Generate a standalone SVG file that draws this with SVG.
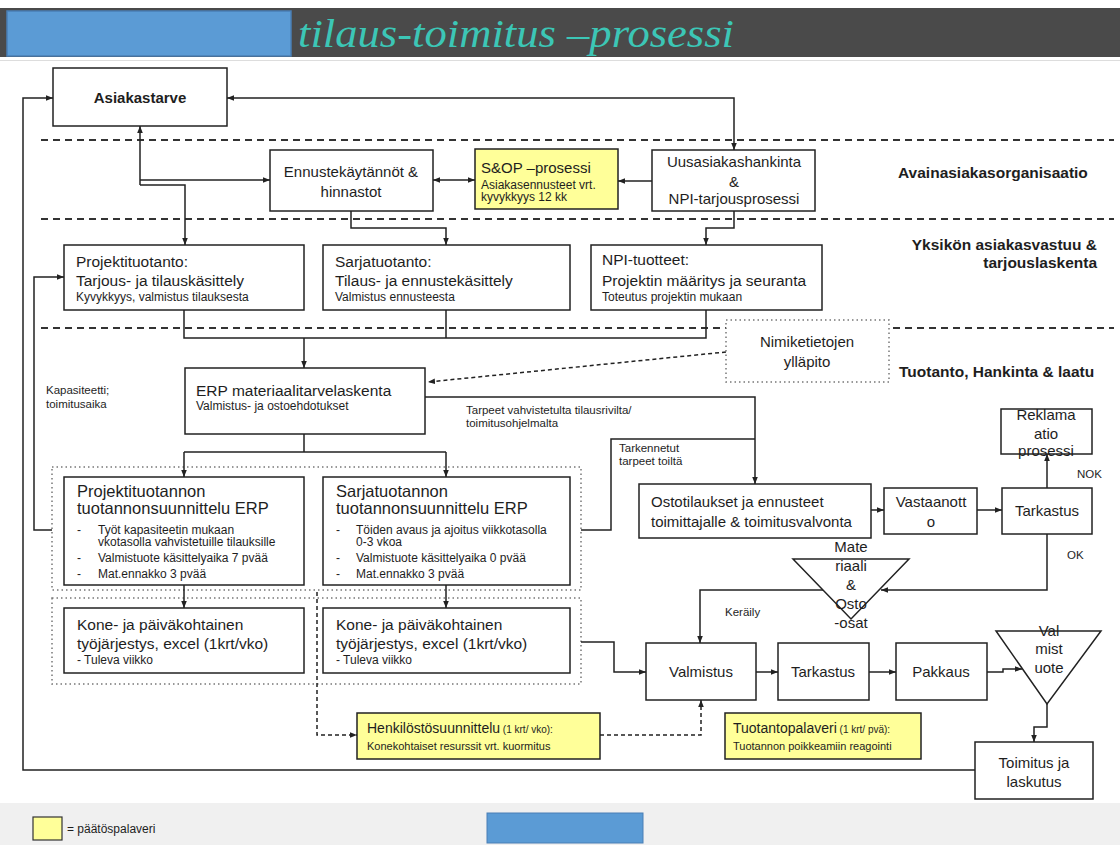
<svg xmlns="http://www.w3.org/2000/svg" width="1120" height="845" viewBox="0 0 1120 845">
<defs>
<style>
text{font-family:"Liberation Sans",Arial,sans-serif;fill:#1e1e1e}
.box{fill:#fff;stroke:#222;stroke-width:1.5}
.yel{fill:#ffff99;stroke:#222;stroke-width:1.5}
.ln{fill:none;stroke:#222;stroke-width:1.5}
.dl{fill:none;stroke:#222;stroke-width:1.5;stroke-dasharray:4 3}
.sep{fill:none;stroke:#333;stroke-width:2;stroke-dasharray:7 5}
.dot{fill:none;stroke:#777;stroke-width:1.5;stroke-dasharray:1.5 3}
.dotw{fill:#fff;stroke:#777;stroke-width:1.5;stroke-dasharray:1.5 3}
.f15{font-size:15px}
.f155{font-size:15.5px}
.f17{font-size:16.5px}
.f12{font-size:12px}
.f11{font-size:11.5px}
.b{font-weight:bold}
.lab{font-size:15.5px;font-weight:bold}
.c{text-anchor:middle}
.r{text-anchor:end}
</style>
<marker id="ar" viewBox="0 0 10 10" refX="10" refY="5" markerWidth="7" markerHeight="7" markerUnits="userSpaceOnUse" orient="auto-start-reverse"><path d="M0,1 L10,5 L0,9 z" fill="#222"/></marker>
</defs>
<rect width="1120" height="845" fill="#fff"/>
<g id="header">
<rect x="0" y="8" width="1120" height="49" fill="#4a4a4a"/>
<rect x="7" y="11" width="284" height="45" fill="#5b9bd5" stroke="#4a7fb5" stroke-width="1.5"/>
<text x="298" y="47" font-family="'Liberation Serif',serif" font-style="italic" font-size="40" style="font-family:'Liberation Serif',serif;fill:#3cc6b6" textLength="436" lengthAdjust="spacingAndGlyphs">tilaus-toimitus –prosessi</text>
<line x1="0" y1="60.5" x2="1120" y2="60.5" stroke="#ddd" stroke-width="1"/>
</g>
<g id="separators">
<line class="sep" x1="41" y1="140" x2="1114" y2="140"/>
<line class="sep" x1="41" y1="219" x2="1114" y2="219"/>
<line class="sep" x1="41" y1="328" x2="1114" y2="328"/>
</g>
<g id="lanes">
<text class="lab" x="898" y="178">Avainasiakasorganisaatio</text>
<text class="lab r" x="1097" y="250">Yksikön asiakasvastuu &amp;</text>
<text class="lab r" x="1097" y="268">tarjouslaskenta</text>
<text class="lab" x="899" y="377">Tuotanto, Hankinta &amp; laatu</text>
</g>
<g id="groups">
<rect class="dot" x="52" y="467" width="529" height="123"/>
<rect class="dot" x="52" y="598" width="529" height="86"/>
</g>
<g id="connectors">
<path class="ln" d="M975 770 H23 V98 H53" marker-end="url(#ar)"/>
<path class="ln" d="M227 98 H734 V150" marker-start="url(#ar)" marker-end="url(#ar)"/>
<path class="ln" d="M433 180 H475" marker-start="url(#ar)" marker-end="url(#ar)"/>
<path class="ln" d="M652 181 H618" marker-end="url(#ar)"/>
<path class="ln" d="M140 185 V126" marker-end="url(#ar)"/>
<path class="ln" d="M140 180 H270" marker-end="url(#ar)"/>
<path class="ln" d="M140 185 H185 V245" marker-end="url(#ar)"/>
<path class="ln" d="M351 211 V228 H446 V245" marker-end="url(#ar)"/>
<path class="ln" d="M734 211 V228 H706 V245" marker-end="url(#ar)"/>
<path class="ln" d="M184 310 V338 H706 V310 M446 310 V338"/>
<path class="ln" d="M304 338 V368" marker-end="url(#ar)"/>
<path class="dl" d="M726 352 L428 382" marker-end="url(#ar)"/>
<path class="ln" d="M425 397 H755 V484" marker-end="url(#ar)"/>
<path class="ln" d="M581 530 H611 V439 H755"/>
<path class="ln" d="M304 434 V452 M184 452 H446"/>
<path class="ln" d="M184 452 V477" marker-end="url(#ar)"/>
<path class="ln" d="M446 452 V477" marker-end="url(#ar)"/>
<path class="ln" d="M184 585 V608" marker-end="url(#ar)"/>
<path class="ln" d="M446 585 V608" marker-end="url(#ar)"/>
<path class="ln" d="M52 530 H34 V277 H64" marker-end="url(#ar)"/>
<path class="ln" d="M581 642 H614 V672 H646" marker-end="url(#ar)"/>
<path class="ln" d="M871 510 H884" marker-end="url(#ar)"/>
<path class="ln" d="M977 510 H1002" marker-end="url(#ar)"/>
<path class="ln" d="M1047 488 V454" marker-end="url(#ar)"/>
<path class="ln" d="M1047 534 V590 H881" marker-end="url(#ar)"/>
<path class="ln" d="M823 590 H700 V643" marker-end="url(#ar)"/>
<path class="ln" d="M756 672 H778" marker-end="url(#ar)"/>
<path class="ln" d="M869 672 H896" marker-end="url(#ar)"/>
<path class="ln" d="M987 672 H1003 V669 H1022" marker-end="url(#ar)"/>
<path class="ln" d="M1047 704 V727 H1034 V742" marker-end="url(#ar)"/>
<path class="dl" d="M317 592 V735 H357" marker-end="url(#ar)"/>
<path class="dl" d="M600 735 H701 V700" marker-end="url(#ar)"/>
</g>
<g id="n-asiakastarve"><rect class="box" x="53" y="68" width="174" height="58"/><text class="f15 b c" x="140" y="103">Asiakastarve</text></g>
<g id="n-ennuste"><rect class="box" x="270" y="150" width="163" height="61"/><text class="f15 c" x="351" y="177">Ennustekäytännöt &amp;</text><text class="f15 c" x="351" y="197">hinnastot</text></g>
<g id="n-sop"><rect class="yel" x="475" y="149" width="143" height="60"/><text class="f15" x="481" y="173">S&amp;OP –prosessi</text><text class="f12" x="481" y="189">Asiakasennusteet vrt.</text><text class="f12" x="481" y="201">kyvykkyys 12 kk</text></g>
<g id="n-uusasiakas"><rect class="box" x="652" y="150" width="163" height="61"/><text class="f15 c" x="734" y="167">Uusasiakashankinta</text><text class="f15 c" x="734" y="187">&amp;</text><text class="f15 c" x="734" y="204">NPI-tarjousprosessi</text></g>
<g id="n-projektituotanto"><rect class="box" x="64" y="245" width="240" height="65"/><text class="f155" x="76" y="267">Projektituotanto:</text><text class="f155" x="76" y="286">Tarjous- ja tilauskäsittely</text><text class="f12" x="76" y="301">Kyvykkyys, valmistus tilauksesta</text></g>
<g id="n-sarjatuotanto"><rect class="box" x="323" y="245" width="247" height="65"/><text class="f155" x="335" y="267">Sarjatuotanto:</text><text class="f155" x="335" y="286">Tilaus- ja ennustekäsittely</text><text class="f12" x="335" y="301">Valmistus ennusteesta</text></g>
<g id="n-npi"><rect class="box" x="591" y="245" width="231" height="65"/><text class="f155" x="602" y="265">NPI-tuotteet:</text><text class="f155" x="602" y="286">Projektin määritys ja seuranta</text><text class="f12" x="602" y="301">Toteutus projektin mukaan</text></g>
<g id="n-nimike"><rect class="dotw" x="726" y="320" width="163" height="62"/><text class="f15 c" x="807" y="347">Nimiketietojen</text><text class="f15 c" x="807" y="367">ylläpito</text></g>
<g id="n-erp"><rect class="box" x="185" y="368" width="240" height="66"/><text class="f155" x="196" y="396">ERP materiaalitarvelaskenta</text><text class="f12" x="196" y="410">Valmistus- ja ostoehdotukset</text></g>
<g id="labels">
<text class="f11" x="46" y="394">Kapasiteetti;</text><text class="f11" x="46" y="408">toimitusaika</text>
<text class="f11" x="466" y="414">Tarpeet vahvistetulta tilausrivilta/</text><text class="f11" x="466" y="427">toimitusohjelmalta</text>
<text class="f11" x="619" y="452">Tarkennetut</text><text class="f11" x="619" y="465">tarpeet toiltä</text>
<text class="f11" x="1077" y="478">NOK</text>
<text class="f11" x="1067" y="559">OK</text>
<text class="f11" x="725" y="616">Keräily</text>
</g>
<g id="n-reklamaatio"><rect class="box" x="1001" y="409" width="91" height="45"/><text class="f15 c" x="1046" y="420">Reklama</text><text class="f15 c" x="1046" y="439">atio</text><text class="f15 c" x="1046" y="456">prosessi</text></g>
<g id="n-projektisuunnittelu"><rect class="box" x="64" y="477" width="240" height="108"/><text class="f17" x="77" y="497">Projektituotannon</text><text class="f17" x="77" y="514">tuotannonsuunnittelu ERP</text>
<text class="f12" x="77" y="534">-</text><text class="f12" x="98" y="534">Työt kapasiteetin mukaan</text><text class="f12" x="98" y="546">vkotasolla vahvistetuille tilauksille</text>
<text class="f12" x="77" y="562">-</text><text class="f12" x="98" y="562">Valmistuote käsittelyaika 7 pvää</text>
<text class="f12" x="77" y="578">-</text><text class="f12" x="98" y="578">Mat.ennakko 3 pvää</text></g>
<g id="n-sarjasuunnittelu"><rect class="box" x="323" y="477" width="247" height="108"/><text class="f17" x="336" y="497">Sarjatuotannon</text><text class="f17" x="336" y="514">tuotannonsuunnittelu ERP</text>
<text class="f12" x="336" y="534">-</text><text class="f12" x="356" y="534">Töiden avaus ja ajoitus viikkotasolla</text><text class="f12" x="356" y="546">0-3 vkoa</text>
<text class="f12" x="336" y="562">-</text><text class="f12" x="356" y="562">Valmistuote käsittelyaika 0 pvää</text>
<text class="f12" x="336" y="578">-</text><text class="f12" x="356" y="578">Mat.ennakko 3 pvää</text></g>
<g id="n-kone1"><rect class="box" x="64" y="608" width="240" height="65"/><text class="f155" x="77" y="630">Kone- ja päiväkohtainen</text><text class="f155" x="77" y="649">työjärjestys, excel (1krt/vko)</text><text class="f12" x="77" y="664">- Tuleva viikko</text></g>
<g id="n-kone2"><rect class="box" x="323" y="608" width="247" height="65"/><text class="f155" x="336" y="630">Kone- ja päiväkohtainen</text><text class="f155" x="336" y="649">työjärjestys, excel (1krt/vko)</text><text class="f12" x="336" y="664">- Tuleva viikko</text></g>
<g id="n-ostotilaukset"><rect class="box" x="639" y="484" width="232" height="54"/><text class="f15" x="651" y="507">Ostotilaukset ja ennusteet</text><text class="f15" x="651" y="527">toimittajalle &amp; toimitusvalvonta</text></g>
<g id="n-vastaanotto"><rect class="box" x="884" y="488" width="93" height="46"/><text class="f15 c" x="931" y="507">Vastaanott</text><text class="f15 c" x="931" y="527">o</text></g>
<g id="n-tarkastus1"><rect class="box" x="1002" y="488" width="90" height="46"/><text class="f15 c" x="1047" y="516">Tarkastus</text></g>
<g id="n-materiaali"><polygon class="box" points="793,559 909,559 851,619"/><text class="f15 c" x="851" y="552">Mate</text><text class="f15 c" x="851" y="571">riaali</text><text class="f15 c" x="851" y="590">&amp;</text><text class="f15 c" x="851" y="609">Osto</text><text class="f15 c" x="851" y="628">-osat</text></g>
<g id="n-valmistus"><rect class="box" x="646" y="643" width="110" height="57"/><text class="f15 c" x="701" y="677">Valmistus</text></g>
<g id="n-tarkastus2"><rect class="box" x="778" y="643" width="91" height="57"/><text class="f15 c" x="823" y="677">Tarkastus</text></g>
<g id="n-pakkaus"><rect class="box" x="896" y="643" width="91" height="57"/><text class="f15 c" x="941" y="677">Pakkaus</text></g>
<g id="n-valmistuote"><polygon class="box" points="996,631 1101,631 1047,704"/><text class="f15 c" x="1049" y="636">Val</text><text class="f15 c" x="1049" y="654">mist</text><text class="f15 c" x="1049" y="673">uote</text></g>
<g id="n-toimitus"><rect class="box" x="975" y="742" width="118" height="57"/><text class="f15 c" x="1034" y="768">Toimitus ja</text><text class="f15 c" x="1034" y="787">laskutus</text></g>
<g id="n-henkilosto"><rect class="yel" x="357" y="713" width="243" height="46"/><text x="367" y="733" font-size="14"><tspan>Henkilöstösuunnittelu</tspan><tspan font-size="10"> (1 krt/ vko):</tspan></text><text x="367" y="750" font-size="11">Konekohtaiset resurssit vrt. kuormitus</text></g>
<g id="n-tuotantopalaveri"><rect class="yel" x="725" y="713" width="196" height="46"/><text x="733" y="733" font-size="14"><tspan>Tuotantopalaveri</tspan><tspan font-size="10"> (1 krt/ pvä):</tspan></text><text x="733" y="750" font-size="11">Tuotannon poikkeamiin reagointi</text></g>
<g id="footer">
<rect x="0" y="803" width="1120" height="42" fill="#f0f0f0"/>
<rect x="33" y="817" width="29" height="23" fill="#ffff99" stroke="#333" stroke-width="1.2"/>
<text x="67" y="833" font-size="12">= päätöspalaveri</text>
<rect x="487" y="813" width="156" height="30" fill="#5b9bd5" stroke="#4a7fb5" stroke-width="1"/>
</g>
</svg>
